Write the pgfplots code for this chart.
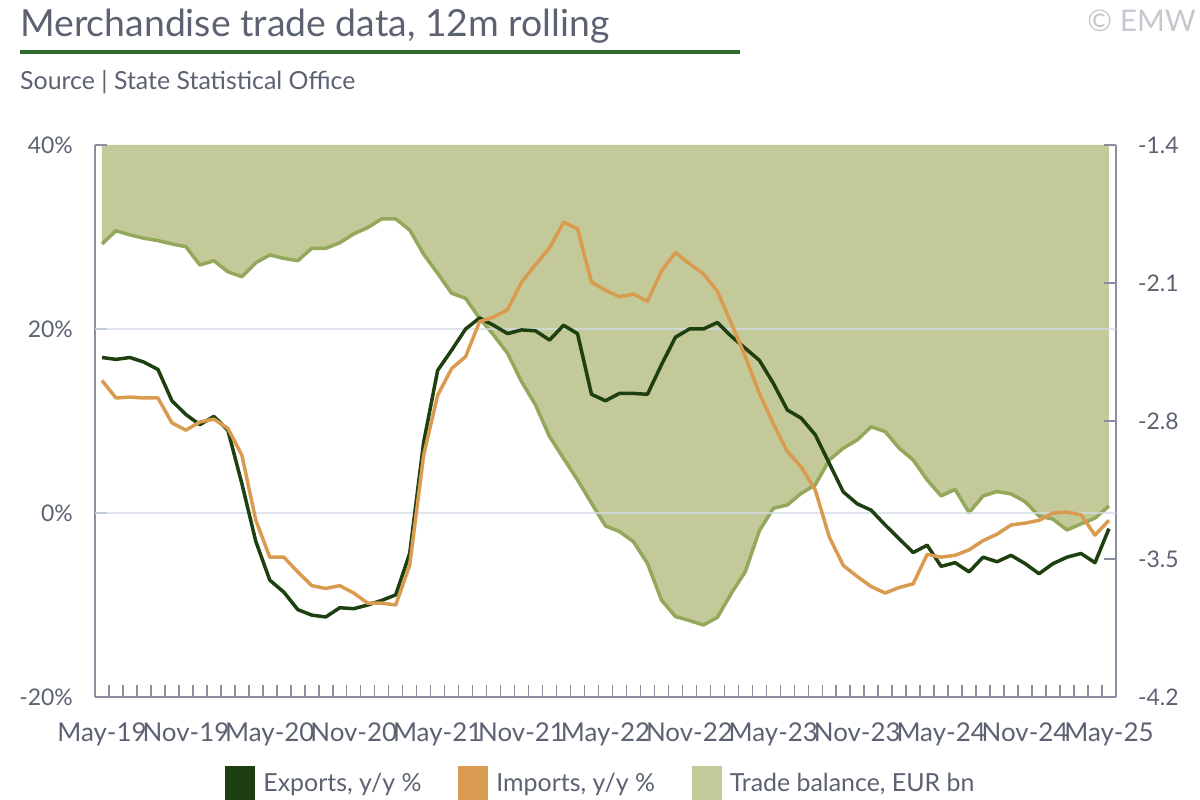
\documentclass[border=0pt]{standalone}
\usepackage{fontspec}
\setmainfont{Lato}
\usepackage{pgfplots}
\usepackage{pgfplotstable}
\pgfplotsset{compat=1.18}
\definecolor{expc}{HTML}{1E4010}
\definecolor{impc}{HTML}{D99B50}
\definecolor{tbline}{HTML}{93A85A}
\definecolor{tbfill}{HTML}{C3C998}
\definecolor{axc}{HTML}{8A8FA0}
\definecolor{txt}{HTML}{5C6272}
\definecolor{gridc}{HTML}{D3DCE7}
\definecolor{titleline}{HTML}{2F6B2E}
\definecolor{copyc}{HTML}{C5C8CE}

\pgfplotstableread{
i exp imp tb
0 16.9 14.4 -1.902
1 16.7 12.5 -1.835
2 16.9 12.6 -1.856
3 16.4 12.5 -1.873
4 15.6 12.5 -1.885
5 12.2 9.8 -1.902
6 10.7 9.0 -1.916
7 9.6 9.9 -2.009
8 10.5 10.2 -1.987
9 9.0 9.2 -2.043
10 3.2 6.3 -2.068
11 -3.1 -0.8 -1.997
12 -7.3 -4.8 -1.958
13 -8.6 -4.8 -1.975
14 -10.5 -6.4 -1.987
15 -11.1 -7.9 -1.924
16 -11.3 -8.2 -1.924
17 -10.3 -7.9 -1.896
18 -10.4 -8.7 -1.851
19 -10.0 -9.8 -1.819
20 -9.5 -9.8 -1.775
21 -8.9 -10.0 -1.775
22 -4.4 -5.7 -1.831
23 7.7 6.3 -1.954
24 15.5 12.8 -2.051
25 17.7 15.7 -2.152
26 20.0 17.0 -2.178
27 21.2 20.8 -2.279
28 20.4 21.3 -2.364
29 19.5 22.1 -2.457
30 19.9 25.1 -2.600
31 19.8 27.0 -2.719
32 18.8 28.8 -2.879
33 20.4 31.6 -2.989
34 19.5 30.9 -3.099
35 12.9 25.1 -3.217
36 12.2 24.2 -3.332
37 13.0 23.5 -3.361
38 13.0 23.8 -3.412
39 12.9 23.0 -3.522
40 16.1 26.3 -3.708
41 19.1 28.3 -3.792
42 20.0 27.1 -3.812
43 20.0 26.0 -3.835
44 20.7 24.1 -3.796
45 19.2 20.6 -3.674
46 17.9 17.0 -3.564
47 16.6 13.0 -3.357
48 14.1 9.7 -3.243
49 11.2 6.7 -3.226
50 10.3 5.0 -3.167
51 8.5 2.5 -3.124
52 5.4 -2.6 -2.998
53 2.3 -5.7 -2.938
54 1.0 -6.9 -2.896
55 0.3 -8.0 -2.829
56 -1.3 -8.7 -2.854
57 -2.8 -8.1 -2.938
58 -4.3 -7.7 -2.998
59 -3.5 -4.5 -3.099
60 -5.8 -4.8 -3.180
61 -5.4 -4.6 -3.147
62 -6.4 -4.0 -3.265
63 -4.8 -3.0 -3.180
64 -5.3 -2.3 -3.158
65 -4.6 -1.3 -3.170
66 -5.5 -1.1 -3.209
67 -6.6 -0.8 -3.282
68 -5.5 0.0 -3.298
69 -4.8 0.1 -3.353
70 -4.4 -0.2 -3.322
71 -5.4 -2.4 -3.293
72 -1.7 -0.8 -3.231
}\data

\pgfplotsset{
  common/.style={
    at={(95bp,103bp)}, anchor=south west,
    scale only axis, width=1021bp, height=552bp,
    xmin=-0.5, xmax=72.5,
    axis line style={-, axc, line width=1.5bp},
    tick style={axc, line width=1.5bp},
    tick align=inside,
    major tick length=12bp, minor tick length=12bp,
    ticklabel style={font=\fontsize{23}{27}\selectfont, text=txt},
  }
}

\begin{document}
\begin{tikzpicture}
\path[use as bounding box] (0bp,0bp) rectangle (1200bp,800bp);
\node[anchor=base west, inner sep=0, text=txt, font=\fontsize{37.5}{44}\selectfont] at (20bp,763bp) {Merchandise trade data, 12m rolling};
\fill[titleline] (20bp,746bp) rectangle (740bp,750bp);
\node[anchor=base west, inner sep=0, text=txt, font=\fontsize{25}{30}\selectfont] at (20bp,710bp) {Source | State Statistical Office};
\node[anchor=base east, inner sep=0, text=copyc, font=\fontsize{30}{36}\selectfont] at (1196bp,768bp) {© EMW};

% right axis: trade balance
\begin{axis}[common,
  ymin=-4.2, ymax=-1.4,
  hide x axis, axis y line*=right,
  axis on top,
  ytick={-4.2,-3.5,-2.8,-2.1,-1.4},
  yticklabels={-4.2,-3.5,-2.8,-2.1,-1.4},
  yticklabel style={anchor=west, inner sep=0pt},
  yticklabel shift=22bp,
]
\addplot[fill=tbfill, draw=none, forget plot] table[x=i,y=tb]{\data} -- (axis cs:72,-1.4) -- (axis cs:0,-1.4) -- cycle;
\addplot[tbline, line width=3.5bp, line join=round, forget plot] table[x=i,y=tb]{\data};
\end{axis}

% left axis: exports/imports
\begin{axis}[common,
  ymin=-20, ymax=40,
  axis x line*=bottom, axis y line*=left,
  xtick={0,6,...,72},
  xticklabels={May-19,Nov-19,May-20,Nov-20,May-21,Nov-21,May-22,Nov-22,May-23,Nov-23,May-24,Nov-24,May-25},
  major x tick style={draw=none},
  minor xtick={0.5,1.5,...,71.5},
  xticklabel style={anchor=north, inner sep=0pt, font=\fontsize{26}{30}\selectfont},
  xticklabel shift=26bp,
  ytick={-20,0,20,40},
  yticklabels={-20\%,0\%,20\%,40\%},
  yticklabel style={anchor=east, inner sep=0pt},
  yticklabel shift=22bp,
  extra y ticks={0,20},
  extra y tick labels={},
  extra y tick style={grid=major, major tick length=0pt},
  grid style={gridc, line width=1.5bp, opacity=0.75},
  legend style={at={(0.4946,0)}, anchor=north, yshift=-69bp, draw=none, fill=none,
    inner sep=0pt, font=\fontsize{25}{30}\selectfont, text=txt,
    legend columns=3,
    nodes={inner sep=0pt},
    /tikz/every odd column/.append style={column sep=8bp},
    /tikz/every even column/.append style={column sep=37bp}},
  legend cell align=left,
  legend image code/.code={\path[#1] (0bp,-17bp) rectangle (30bp,17bp);},
]
\addplot[expc, line width=3.5bp, line join=round, forget plot] table[x=i,y=exp]{\data};
\addplot[impc, line width=3.5bp, line join=round, forget plot] table[x=i,y=imp]{\data};
\addlegendimage{fill=expc, draw=none}
\addlegendentry{Exports, y/y \%}
\addlegendimage{fill=impc, draw=none}
\addlegendentry{Imports, y/y \%}
\addlegendimage{fill=tbfill, draw=none}
\addlegendentry{Trade balance, EUR bn}
\end{axis}
\end{tikzpicture}
\end{document}
